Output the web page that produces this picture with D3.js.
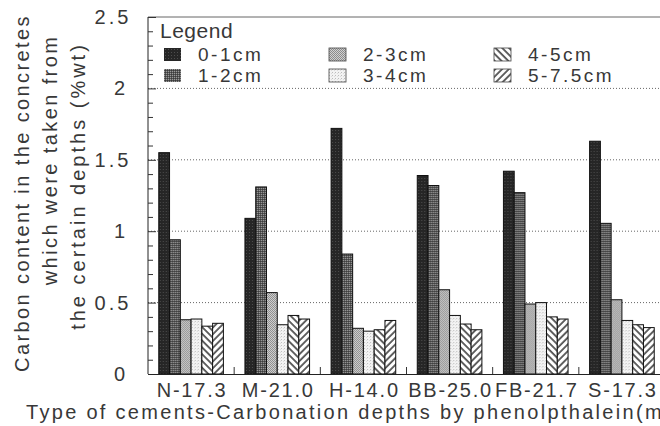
<!DOCTYPE html>
<html>
<head>
<meta charset="utf-8">
<script src="https://cdn.jsdelivr.net/npm/d3@7"></script>
<style>
  body { margin: 0; background: #fff; }
  svg { display: block; font-family: 'Liberation Sans', Arial, sans-serif; }
</style>
</head>
<body>
<script>
// cement type - carbonation depth (mm)
const categories = ['N-17.3', 'M-21.0', 'H-14.0', 'BB-25.0', 'FB-21.7', 'S-17.3']
const depths = ['0-1cm', '1-2cm', '2-3cm', '3-4cm', '4-5cm', '5-7.5cm']

// carbon content (%wt) for every depth, one value per cement
const depth01 = [1.55, 1.09, 1.72, 1.39, 1.42, 1.63]
const depth12 = [0.94, 1.31, 0.84, 1.32, 1.27, 1.055]
const depth23 = [0.38, 0.57, 0.32, 0.59, 0.49, 0.52]
const depth34 = [0.385, 0.345, 0.30, 0.41, 0.50, 0.375]
const depth45 = [0.335, 0.41, 0.31, 0.35, 0.40, 0.345]
const depth575 = [0.355, 0.385, 0.375, 0.31, 0.385, 0.325]

const yTicks = [0, 0.5, 1, 1.5, 2, 2.5]
const yLabels = ['0', '0.5', '1', '1.5', '2', '2.5']

const series = [depth01, depth12, depth23, depth34, depth45, depth575]

const width = 660
const height = 426
const plotLeft = 148
const plotRight = 665
const plotTop = 17
const plotBottom = 374
const ink = '#383838'

const svg = d3.select('body').append('svg')
  .attr('width', width)
  .attr('height', height)

// fill patterns (scanned look)
const defs = svg.append('defs')

const dotPattern = (id, size, base, dots) => {
  let p = defs.append('pattern').attr('id', id)
    .attr('patternUnits', 'userSpaceOnUse')
    .attr('width', size).attr('height', size)
  p.append('rect').attr('width', size).attr('height', size).attr('fill', base)
  dots.forEach(d => {
    p.append('rect').attr('x', d[0]).attr('y', d[1]).attr('width', 1).attr('height', 1).attr('fill', d[2])
  })
}
dotPattern('p0', 3, '#262626', [[1, 1, '#4d4d4d']])
dotPattern('p1', 2, '#555', [[0, 0, '#9a9a9a'], [1, 1, '#3c3c3c']])
dotPattern('p2', 2, '#8c8c8c', [[0, 0, '#d4d4d4'], [1, 1, '#cfcfcf']])
dotPattern('p3', 3, '#f3f3f3', [[0, 0, '#bdbdbd'], [2, 1, '#dcdcdc']])

const hatch = (id, angle) => {
  let p = defs.append('pattern').attr('id', id)
    .attr('patternUnits', 'userSpaceOnUse')
    .attr('width', 4.8).attr('height', 4.8)
    .attr('patternTransform', 'rotate(' + angle + ')')
  p.append('rect').attr('width', 4.8).attr('height', 4.8).attr('fill', '#fff')
  p.append('line').attr('x1', 1).attr('x2', 1).attr('y1', 0).attr('y2', 4.8)
    .attr('stroke', '#222').attr('stroke-width', 1.4)
}
hatch('p4', -45)
hatch('p5', 45)

const fills = ['url(#p0)', 'url(#p1)', 'url(#p2)', 'url(#p3)', 'url(#p4)', 'url(#p5)']

// scales
const yScale = d3.scaleLinear().domain([0, 2.5]).range([plotBottom, plotTop])

const xScale = d3.scaleBand()
  .domain(categories)
  .range([plotLeft, plotRight])
  .paddingInner(0.25)
  .paddingOuter(0.125)

const barScale = d3.scaleBand()
  .domain(depths)
  .range([0, xScale.bandwidth()])

// dotted grid lines
svg.append('g').selectAll('line')
  .data(yTicks.filter(t => t > 0 && t < 2.5))
  .enter().append('line')
  .attr('x1', plotLeft).attr('x2', width)
  .attr('y1', d => yScale(d)).attr('y2', d => yScale(d))
  .attr('stroke', '#666')
  .attr('stroke-dasharray', '1,2')

// top frame line
svg.append('line')
  .attr('x1', plotLeft).attr('x2', width)
  .attr('y1', yScale(2.5)).attr('y2', yScale(2.5))
  .attr('stroke', '#666')

// bars
const groups = svg.append('g').selectAll('g')
  .data(categories)
  .enter().append('g')
  .attr('transform', d => 'translate(' + xScale(d) + ',0)')

groups.selectAll('rect')
  .data((c, i) => series.map((s, j) => ({ depth: depths[j], value: s[i], k: j })))
  .enter().append('rect')
  .attr('x', d => barScale(d.depth))
  .attr('y', d => yScale(d.value))
  .attr('width', barScale.bandwidth())
  .attr('height', d => plotBottom - yScale(d.value))
  .attr('fill', d => fills[d.k])
  .attr('stroke', '#111')
  .attr('stroke-width', 1)

// y axis with inside ticks
const minor = d3.range(0, 2.51, 0.1)
const yAxis = d3.axisRight(yScale)
  .tickValues(minor)
  .tickSize(5)
  .tickFormat('')
svg.append('g')
  .attr('transform', 'translate(' + plotLeft + ',0)')
  .call(yAxis)
  .call(g => g.select('.domain').attr('stroke', '#222').attr('d', 'M0,' + plotTop + 'V' + plotBottom))
  .call(g => g.selectAll('.tick line').attr('stroke', '#333')
    .attr('x2', d => Math.abs(d * 2 - Math.round(d * 2)) < 0.01 ? 8 : 5))

svg.append('g').selectAll('text')
  .data(yTicks)
  .enter().append('text')
  .attr('x', (d, i) => yLabels[i].length > 1 ? 113 : 121)
  .attr('y', d => yScale(d) + 7)
  .attr('text-anchor', 'middle')
  .attr('font-size', 20)
  .attr('letter-spacing', 3)
  .attr('fill', ink)
  .text((d, i) => yLabels[i])

// x axis: baseline and group separators
const xAxis = d3.axisTop(xScale)
  .tickValues([])
  .tickSizeOuter(0)
svg.append('g')
  .attr('transform', 'translate(0,' + plotBottom + ')')
  .call(xAxis)
  .call(g => g.select('.domain').attr('stroke', '#222'))

svg.append('g').selectAll('line')
  .data(categories.slice(1))
  .enter().append('line')
  .attr('x1', d => xScale(d) - xScale.step() * 0.125)
  .attr('x2', d => xScale(d) - xScale.step() * 0.125)
  .attr('y1', plotBottom).attr('y2', plotBottom - 7)
  .attr('stroke', '#333')

svg.append('g').selectAll('text')
  .data(categories)
  .enter().append('text')
  .attr('x', d => xScale(d) + xScale.bandwidth() / 2 + 1)
  .attr('y', 397)
  .attr('text-anchor', 'middle')
  .attr('font-size', 20)
  .attr('letter-spacing', 1.8)
  .attr('fill', ink)
  .text(d => d)

// axis titles
svg.append('text')
  .attr('x', 26).attr('y', 419)
  .attr('font-size', 20)
  .attr('letter-spacing', 2.3)
  .attr('fill', ink)
  .text('Type of cements-Carbonation depths by phenolpthalein(mm)')

const yTitle = [
  ['Carbon content in the concretes', 29, 193, 2.4],
  ['which were taken from', 57, 160, 2.4],
  ['the certain depths (%wt)', 85, 186, 3]
]
svg.append('g').selectAll('text')
  .data(yTitle)
  .enter().append('text')
  .attr('transform', d => 'translate(' + d[1] + ',' + d[2] + ') rotate(-90)')
  .attr('text-anchor', 'middle')
  .attr('font-size', 20)
  .attr('letter-spacing', d => d[3])
  .attr('fill', ink)
  .text(d => d[0])

// legend
const legend = svg.append('g')
legend.append('text')
  .attr('x', 160).attr('y', 38)
  .attr('font-size', 21)
  .attr('letter-spacing', 0.5)
  .attr('fill', ink)
  .text('Legend')

const item = legend.selectAll('g.item')
  .data(depths)
  .enter().append('g')
  .attr('class', 'item')
  .attr('transform', (d, i) => 'translate(' + (164 + Math.floor(i / 2) * 165) + ',' + (48 + (i % 2) * 21) + ')')

item.append('rect')
  .attr('width', 17).attr('height', 13)
  .attr('fill', (d, i) => fills[i])
  .attr('stroke', (d, i) => i < 2 ? 'none' : '#444')
  .attr('stroke-width', 0.8)

item.append('text')
  .attr('x', 34).attr('y', 13)
  .attr('font-size', 19)
  .attr('letter-spacing', 2.5)
  .attr('fill', ink)
  .text(d => d)
</script>
</body>
</html>
